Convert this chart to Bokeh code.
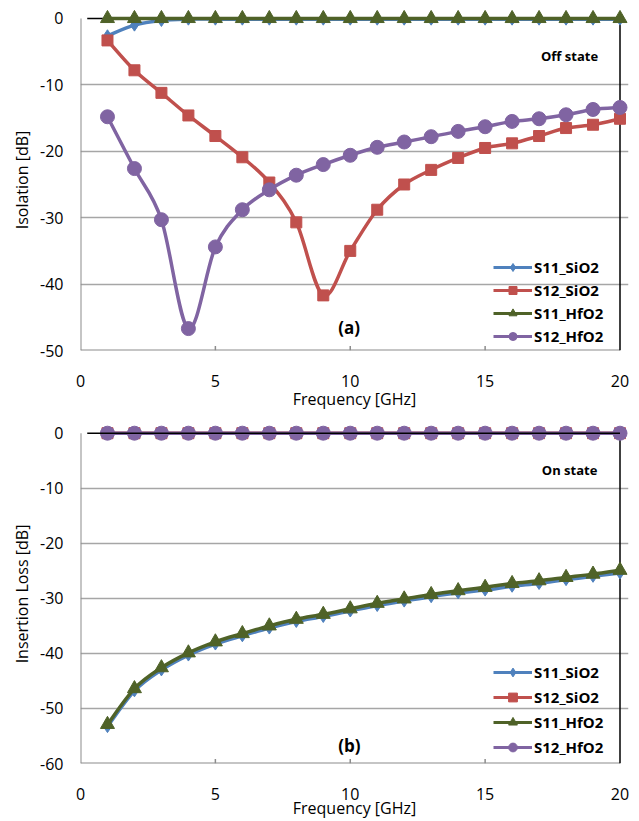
from bokeh.plotting import figure
from bokeh.models import (Range1d, FixedTicker, Legend, LegendItem, Label,
                          ColumnDataSource, PrintfTickFormatter)
from bokeh.layouts import column
from bokeh.embed import file_html
from bokeh.resources import INLINE

# ---------------- data ----------------
freq = [1, 2, 3, 4, 5, 6, 7, 8, 9, 10, 11, 12, 13, 14, 15, 16, 17, 18, 19, 20]

# (a) Off state - Isolation [dB]
a_s11_sio2 = [-2.6, -1.0, -0.3, -0.1, -0.1, -0.1, -0.1, -0.1, -0.1, -0.1,
              -0.1, -0.1, -0.1, -0.1, -0.1, -0.1, -0.1, -0.1, -0.1, -0.1]
a_s12_sio2 = [-3.3, -7.8, -11.2, -14.6, -17.7, -20.9, -24.7, -30.7, -41.7, -35.0,
              -28.8, -25.0, -22.8, -21.0, -19.5, -18.8, -17.7, -16.5, -16.0, -15.1]
a_s11_hfo2 = [0.0, 0.0, 0.0, 0.0, 0.0, 0.0, 0.0, 0.0, 0.0, 0.0,
              0.0, 0.0, 0.0, 0.0, 0.0, 0.0, 0.0, 0.0, 0.0, 0.0]
a_s12_hfo2 = [-14.8, -22.6, -30.3, -46.7, -34.4, -28.8, -25.8, -23.6, -22.0, -20.6,
              -19.4, -18.6, -17.8, -17.0, -16.3, -15.5, -15.1, -14.5, -13.7, -13.4]

# (b) On state - Insertion Loss [dB]
b_s11_sio2 = [-53.3, -46.8, -43.0, -40.3, -38.3, -36.8, -35.4, -34.2, -33.3, -32.3,
              -31.3, -30.5, -29.7, -29.0, -28.5, -27.8, -27.3, -26.6, -26.0, -25.4]
b_s12_sio2 = [0.0, 0.0, 0.0, 0.0, 0.0, 0.0, 0.0, 0.0, 0.0, 0.0,
              0.0, 0.0, 0.0, 0.0, 0.0, 0.0, 0.0, 0.0, 0.0, 0.0]
b_s11_hfo2 = [-52.9, -46.4, -42.6, -39.9, -37.9, -36.4, -35.0, -33.8, -32.9, -31.9,
              -30.9, -30.1, -29.3, -28.6, -28.0, -27.3, -26.8, -26.2, -25.6, -24.9]
b_s12_hfo2 = [0.0, 0.0, 0.0, 0.0, 0.0, 0.0, 0.0, 0.0, 0.0, 0.0,
              0.0, 0.0, 0.0, 0.0, 0.0, 0.0, 0.0, 0.0, 0.0, 0.0]

series_names = ["S11_SiO2", "S12_SiO2", "S11_HfO2", "S12_HfO2"]
x_ticks = [0, 5, 10, 15, 20]
a_y_ticks = [0, -10, -20, -30, -40, -50]
b_y_ticks = [0, -10, -20, -30, -40, -50, -60]

# ---------------- style ----------------
FONT = "Open Sans"
COLORS = ["#4F81BD", "#C0504D", "#4F6228", "#8064A2"]
MARKERS = ["diamond", "square", "triangle", "circle"]
MSIZES = [12, 11, 14, 14]
GRID = "#A6A6A6"
AXIS = "#8C8C8C"


def smooth_src(x, y, t=1.0 / 6.0):
    """Bezier control points (Excel-like smoothing) computed from the data."""
    n = len(x)
    d = dict(x0=[], y0=[], x1=[], y1=[], cx0=[], cy0=[], cx1=[], cy1=[])
    for i in range(n - 1):
        p0 = i - 1 if i > 0 else i
        p3 = i + 2 if i + 2 < n else i + 1
        d["x0"].append(x[i]); d["y0"].append(y[i])
        d["x1"].append(x[i + 1]); d["y1"].append(y[i + 1])
        d["cx0"].append(x[i] + (x[i + 1] - x[p0]) * t)
        d["cy0"].append(y[i] + (y[i + 1] - y[p0]) * t)
        d["cx1"].append(x[i + 1] - (x[p3] - x[i]) * t)
        d["cy1"].append(y[i + 1] - (y[p3] - y[i]) * t)
    return ColumnDataSource(d)


def make_panel(data, y_lo, y_end, y_ticks, frame_h, mb_top, mb_bottom, ylabel,
               state_text, state_xy, tag_text, tag_xy, legend_loc, legend_row,
               zero_on_top, tick_standoff, label_standoff):
    p = figure(frame_width=548, frame_height=frame_h,
               x_range=Range1d(0, 20.315), y_range=Range1d(y_lo, y_end),
               output_backend="svg", toolbar_location=None,
               min_border_left=80, min_border_right=2,
               min_border_top=mb_top, min_border_bottom=mb_bottom,
               background_fill_color="white", border_fill_color="white")
    p.outline_line_color = None

    # axes
    for ax in (p.xaxis[0], p.yaxis[0]):
        ax.axis_line_color = None
        ax.major_tick_line_color = None
        ax.minor_tick_line_color = None
        ax.major_tick_out = 0
        ax.major_tick_in = 0
        ax.minor_tick_out = 0
        ax.minor_tick_in = 0
        ax.major_label_text_font = FONT
        ax.major_label_text_font_size = "16px"
        ax.major_label_text_color = "black"
        ax.axis_label_text_font = FONT
        ax.axis_label_text_font_size = "16px"
        ax.axis_label_text_font_style = "normal"
        ax.axis_label_text_color = "black"
    p.xaxis.ticker = FixedTicker(ticks=x_ticks)
    p.yaxis.ticker = FixedTicker(ticks=y_ticks)
    p.xaxis.formatter = PrintfTickFormatter(format="%d")
    p.yaxis.formatter = PrintfTickFormatter(format="%d")
    p.xaxis.axis_label = "Frequency [GHz]"
    p.yaxis.axis_label = ylabel
    p.yaxis.major_label_standoff = 17
    p.yaxis.axis_label_standoff = 4
    p.xaxis.major_label_standoff = tick_standoff
    p.xaxis.axis_label_standoff = label_standoff

    p.xgrid.grid_line_color = None
    p.ygrid.ticker = FixedTicker(ticks=y_ticks[1:-1])
    p.ygrid.grid_line_color = GRID
    p.ygrid.grid_line_width = 1.5

    # frame lines (grey left/bottom axis, black right border)
    p.segment(x0=[0], y0=[y_lo], x1=[0], y1=[0], line_color=AXIS, line_width=2)
    p.segment(x0=[0], y0=[y_lo], x1=[20], y1=[y_lo], line_color=AXIS, line_width=2)
    p.segment(x0=[20], y0=[y_lo], x1=[20], y1=[0], line_color="black", line_width=1.5)
    # small inward ticks on the bottom axis
    p.segment(x0=x_ticks[1:-1], y0=[y_lo] * 3, x1=x_ticks[1:-1],
              y1=[y_lo + (y_end - y_lo) * 0.013] * 3, line_color=AXIS, line_width=1.5)
    if not zero_on_top:
        p.segment(x0=[0.25], y0=[0], x1=[20], y1=[0], line_color="black", line_width=1.5)

    items = []
    for name, ys, col, mk, ms in zip(series_names, data, COLORS, MARKERS, MSIZES):
        p.bezier(x0="x0", y0="y0", x1="x1", y1="y1", cx0="cx0", cy0="cy0",
                 cx1="cx1", cy1="cy1", source=smooth_src(freq, ys),
                 line_color=col, line_width=3.5, line_cap="round")
        lr = p.line(freq, ys, line_color=col, line_width=3, visible=False)
        sr = p.scatter(freq, ys, marker=mk, size=ms, fill_color=col, line_color=col)
        items.append(LegendItem(label=name, renderers=[lr, sr]))

    if zero_on_top:
        p.segment(x0=[0.25], y0=[0], x1=[20], y1=[0], line_color="black", line_width=1.5)

    legend = Legend(items=items, location=legend_loc, padding=0, margin=0,
                    border_line_color=None, background_fill_alpha=0,
                    glyph_width=39, glyph_height=legend_row, label_height=legend_row,
                    spacing=3, label_standoff=2,
                    label_text_font=FONT, label_text_font_size="15px",
                    label_text_font_style="bold", label_text_color="black")
    p.add_layout(legend, "center")

    p.add_layout(Label(x=state_xy[0], y=state_xy[1], text=state_text,
                       text_font=FONT, text_font_size="13px", text_font_style="bold",
                       text_align="center", text_baseline="middle", text_color="black"))
    p.add_layout(Label(x=tag_xy[0], y=tag_xy[1], text=tag_text,
                       text_font=FONT, text_font_size="17px", text_font_style="bold",
                       text_align="center", text_baseline="middle", text_color="black"))
    return p


pa = make_panel([a_s11_sio2, a_s12_sio2, a_s11_hfo2, a_s12_hfo2],
                y_lo=-50, y_end=1.355, y_ticks=a_y_ticks, frame_h=341,
                mb_top=9, mb_bottom=62, ylabel="Isolation [dB]",
                state_text="Off state", state_xy=(18.13, -5.6),
                tag_text="(a)", tag_xy=(9.96, -46.5),
                legend_loc=(413, 4), legend_row=20, zero_on_top=False,
                tick_standoff=24, label_standoff=-2)

pb = make_panel([b_s11_sio2, b_s12_sio2, b_s11_hfo2, b_s12_hfo2],
                y_lo=-60, y_end=1.58, y_ticks=b_y_ticks, frame_h=339,
                mb_top=12, mb_bottom=58, ylabel="Insertion Loss [dB]",
                state_text="On state", state_xy=(18.13, -6.64),
                tag_text="(b)", tag_xy=(9.97, -56.7),
                legend_loc=(413, 5), legend_row=22, zero_on_top=True,
                tick_standoff=24, label_standoff=-6)

layout = column(pa, pb, spacing=0)
open("out.html", "w").write(file_html(layout, INLINE))
